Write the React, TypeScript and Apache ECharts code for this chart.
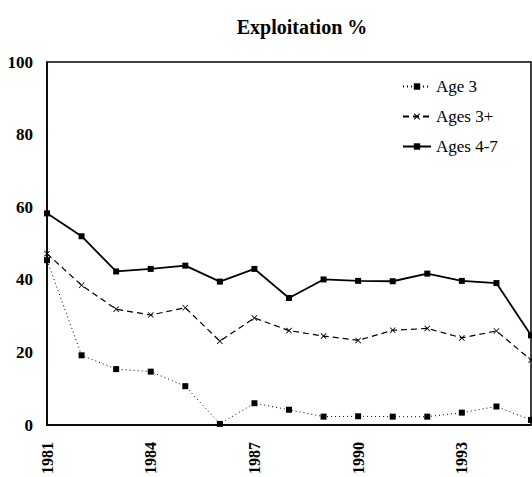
import React, { useEffect, useRef } from "react";
import * as echarts from "echarts";

const years = [
  "1981", "1982", "1983", "1984", "1985", "1986", "1987", "1988",
  "1989", "1990", "1991", "1992", "1993", "1994", "1995",
];
const age3 = [45.4, 19.2, 15.4, 14.7, 10.7, 0.3, 6.0, 4.2, 2.3, 2.4, 2.3, 2.3, 3.4, 5.1, 1.4];
const ages3plus = [47.2, 38.5, 31.9, 30.3, 32.3, 23.1, 29.5, 26.0, 24.5, 23.3, 26.1, 26.6, 24.0, 25.9, 17.9];
const ages4to7 = [58.3, 52.0, 42.3, 43.0, 43.9, 39.5, 43.0, 35.0, 40.1, 39.7, 39.6, 41.7, 39.7, 39.1, 24.7];
const yTicks = [0, 20, 40, 60, 80, 100];

const FONT = "'Liberation Serif', 'DejaVu Serif', serif";
const crossPath = "path://M0,1 L1,0 L5,4 L9,0 L10,1 L6,5 L10,9 L9,10 L5,6 L1,10 L0,9 L4,5 Z";

export default function App() {
  const ref = useRef<HTMLDivElement>(null);
  useEffect(() => {
    if (!ref.current) return;
    const chart = echarts.init(ref.current, undefined, { renderer: "svg" });
    chart.setOption({
      animation: false,
      backgroundColor: "#ffffff",
      title: {
        text: "Exploitation %",
        left: 297,
        top: 12,
        textAlign: "center",
        textStyle: { fontFamily: FONT, fontWeight: "bold", fontSize: 20, color: "#000" },
      },
      legend: {
        orient: "vertical",
        left: 402,
        top: 78,
        padding: 0,
        itemGap: 13,
        itemWidth: 28,
        itemHeight: 8,
        textStyle: { fontFamily: FONT, fontSize: 17, color: "#000" },
        data: ["Age 3", "Ages 3+", "Ages 4-7"],
      },
      grid: {
        left: 47,
        right: 1,
        top: 62,
        bottom: 46,
        show: true,
        borderColor: "#000",
        borderWidth: 1.5,
      },
      xAxis: {
        type: "category",
        data: years,
        boundaryGap: false,
        axisLine: { show: true, lineStyle: { color: "#000", width: 1.5 } },
        axisTick: { show: false },
        splitLine: { show: false },
        axisLabel: {
          interval: 2,
          rotate: 90,
          margin: 17,
          fontFamily: FONT,
          fontWeight: "bold",
          fontSize: 16,
          color: "#000",
        },
      },
      yAxis: {
        type: "value",
        min: yTicks[0],
        max: yTicks[yTicks.length - 1],
        interval: 20,
        axisLine: { show: true, lineStyle: { color: "#000", width: 1.5 } },
        axisTick: { show: false },
        splitLine: { show: false },
        axisLabel: {
          margin: 14,
          fontFamily: FONT,
          fontWeight: "bold",
          fontSize: 17,
          color: "#000",
        },
      },
      series: [
        {
          name: "Age 3",
          type: "line",
          data: age3,
          symbol: "rect",
          symbolSize: 6,
          itemStyle: { color: "#000" },
          lineStyle: { color: "#000", width: 1, type: [1, 3] },
        },
        {
          name: "Ages 3+",
          type: "line",
          data: ages3plus,
          symbol: crossPath,
          symbolSize: 6,
          itemStyle: { color: "#000" },
          lineStyle: { color: "#000", width: 1.2, type: [6, 4] },
        },
        {
          name: "Ages 4-7",
          type: "line",
          data: ages4to7,
          symbol: "rect",
          symbolSize: 6,
          itemStyle: { color: "#000" },
          lineStyle: { color: "#000", width: 1.8 },
        },
      ],
    });
    return () => chart.dispose();
  }, []);
  return (
    <div
      ref={ref}
      style={{ position: "absolute", left: 0, top: 0, width: 532, height: 477 }}
    />
  );
}
